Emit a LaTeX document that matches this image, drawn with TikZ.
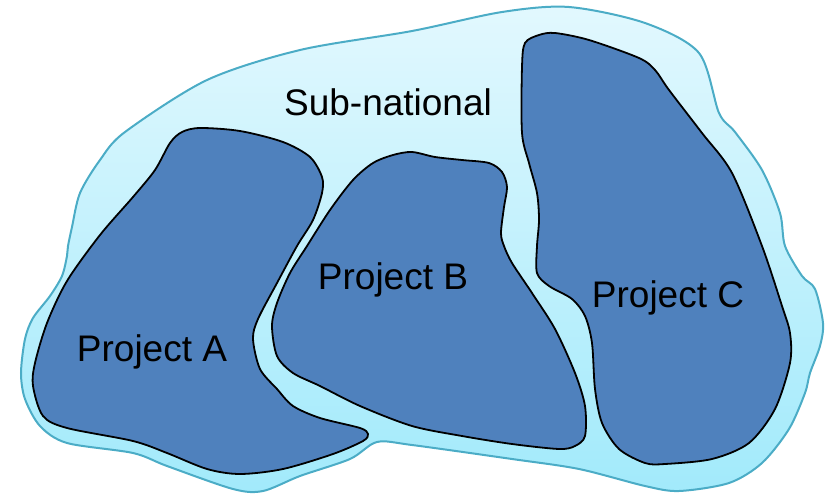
\documentclass[tikz,border=0pt]{standalone}
\usepackage{fontspec}
\setmainfont{Liberation Sans}
\definecolor{projfill}{HTML}{4F81BD}
\definecolor{outerline}{HTML}{4BACC6}
\definecolor{outertop}{HTML}{E2F8FE}
\definecolor{outerbot}{HTML}{A2EAFB}
\begin{document}
\begin{tikzpicture}[x=1pt,y=-1pt,
  region/.style={draw=outerline, line width=2pt, top color=outertop, bottom color=outerbot},
  project/.style={draw=black, line width=1.8pt, fill=projfill},
  lbl/.style={font=\fontsize{37}{42}\selectfont, anchor=base, inner sep=0pt}]
\useasboundingbox (0,0) rectangle (825,493);
\draw[region] plot[smooth cycle, tension=0.5] coordinates {
(68,246) (72,227) (80,193) (100,160) (125,132) (207,80) (300,50) (412,31) (502,12) (569,7) (645,23) (699,53) (719,113) (735,132) (762,170) (780,213) (785,246) (802,276) (815,289) (823,323) (820,346) (810,373) (805,393) (789,429) (762,463) (729,483) (679,491) (645,486) (579,469) (512,459) (412,445) (377,442) (350,459) (300,476) (263,491) (233,489) (167,466) (133,453) (67,443) (40,426) (25,399) (21,373) (25,339) (33,318) (50,296) (62,276) (67,256)};
\draw[project] plot[smooth cycle, tension=0.5] coordinates {
(200,128) (240,131) (283,142) (310,157) (322,177) (322,193) (313,220) (297,246) (277,283) (258,319) (253,339) (260,369) (277,389) (293,406) (320,418) (360,428) (368,434) (363,441) (333,454) (283,469) (240,474) (207,469) (167,453) (133,441) (67,428) (43,416) (33,386) (35,363) (47,323) (67,281) (100,235) (133,197) (155,170) (170,143) (182,132)};
\draw[project] plot[smooth cycle, tension=0.5] coordinates {
(412,152) (435,157) (462,160) (489,163) (502,172) (507,187) (504,207) (501,233) (504,246) (512,263) (532,293) (555,329) (575,373) (585,406) (585,436) (575,446) (559,449) (512,444) (462,436) (412,426) (360,406) (320,386) (293,373) (277,356) (272,326) (277,303) (290,273) (307,246) (330,210) (353,180) (373,163) (393,155)};
\draw[project] plot[smooth cycle, tension=0.5] coordinates {
(555,33) (589,40) (639,58) (655,70) (669,90) (702,133) (732,173) (762,246) (782,306) (790,333) (790,363) (775,409) (749,443) (712,459) (665,464) (645,463) (619,449) (602,423) (595,389) (592,343) (585,316) (572,299) (549,286) (537,273) (537,246) (539,220) (537,193) (529,163) (522,133) (522,67) (525,43) (539,35)};
\node[lbl] (sub) at (388,115) {Sub-national};
\node[lbl] (pa) at (152,361) {Project A};
\node[lbl] (pb) at (393,289) {Project B};
\node[lbl] (pc) at (668,307) {Project C};
\end{tikzpicture}
\end{document}
